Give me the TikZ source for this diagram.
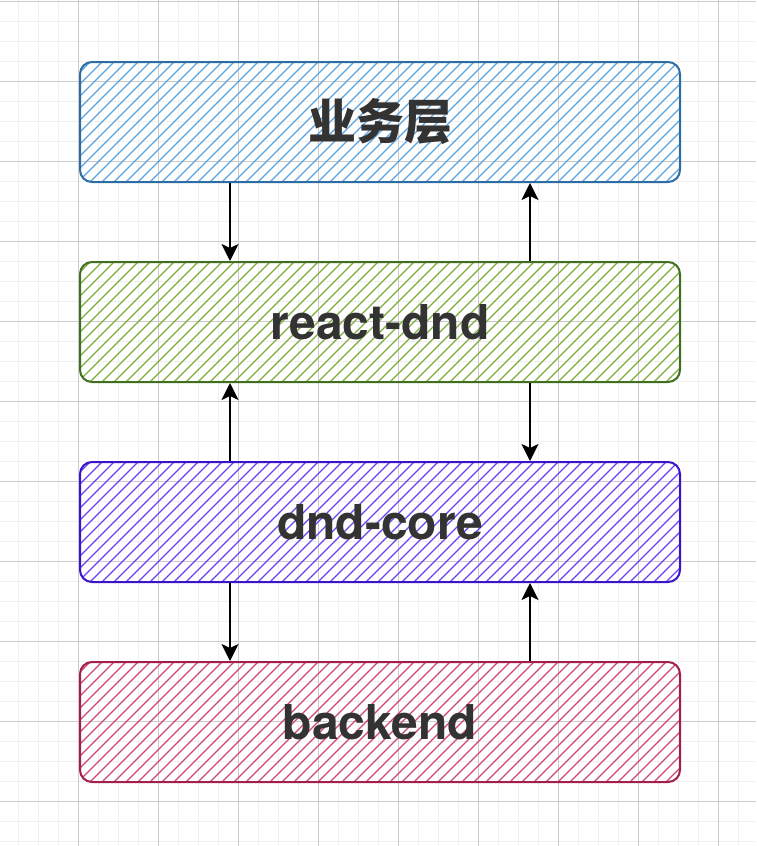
\documentclass[tikz,border=0pt]{standalone}
\usepackage{fontspec}
\setmainfont{TeX Gyre Heros}
\newfontfamily\cjk{Noto Sans CJK SC}
\usetikzlibrary{positioning, arrows.meta}

\definecolor{txt}{HTML}{333333}
\definecolor{bizline}{HTML}{2E6DA4}
\definecolor{bizhatch}{HTML}{5BA3E0}
\definecolor{reactline}{HTML}{3F6F1F}
\definecolor{reacthatch}{HTML}{7DAD3E}
\definecolor{coreline}{HTML}{3A14C8}
\definecolor{corehatch}{HTML}{6A42F2}
\definecolor{backline}{HTML}{A0204A}
\definecolor{backhatch}{HTML}{D0457A}

\tikzset{
    layer/.style={draw=#1line, line width=2pt, rounded corners=12pt,
        minimum width=600pt, minimum height=120pt, text=txt,
        font=\fontsize{48}{56}\selectfont\bfseries,
        path picture={
            \foreach \d in {-440,-428,...,310}
                \draw[#1hatch, line width=1.3pt]
                    ([xshift=\d pt, yshift=-6pt]path picture bounding box.south)
                    -- ++(134pt,134pt);
        }},
    flow/.style={-{Stealth[length=17pt, width=17pt, inset=4pt]}, line width=2pt},
    minor/.style={draw=black!6, line width=1pt},
    major/.style={draw=black!20, line width=1pt}
}

\begin{document}
\begin{tikzpicture}[x=1pt, y=-1pt]
    \useasboundingbox (0,0) rectangle (756,846);
    \fill[white] (0,0) rectangle (756,846);

    % background grid
    \foreach \x in {18,38,...,758} \draw[minor] (\x,0) -- (\x,846);
    \foreach \y in {1,21,...,846} \draw[minor] (0,\y) -- (756,\y);
    \foreach \x in {-2,78,...,758} \draw[major] (\x,0) -- (\x,846);
    \foreach \y in {1,81,...,846} \draw[major] (0,\y) -- (756,\y);

    % layers
    \node[layer=biz]   (biz)  at (380,122) {\cjk 业务层};
    \node[layer=react] (rdnd) at (380,322) {react-dnd};
    \node[layer=core]  (core) at (380,522) {dnd-core};
    \node[layer=back]  (back) at (380,722) {backend};

    % calls between layers
    \draw[flow] ([xshift=-150pt]biz.south)  -- ([xshift=-150pt]rdnd.north);
    \draw[flow] ([xshift=150pt]rdnd.north)  -- ([xshift=150pt]biz.south);
    \draw[flow] ([xshift=-150pt]core.north) -- ([xshift=-150pt]rdnd.south);
    \draw[flow] ([xshift=150pt]rdnd.south)  -- ([xshift=150pt]core.north);
    \draw[flow] ([xshift=-150pt]core.south) -- ([xshift=-150pt]back.north);
    \draw[flow] ([xshift=150pt]back.north)  -- ([xshift=150pt]core.south);
\end{tikzpicture}
\end{document}
